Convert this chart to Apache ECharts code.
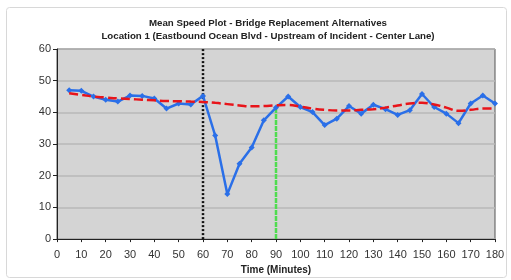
<!DOCTYPE html>
<html lang="en">
<head>
  <meta charset="UTF-8">
  <title>Mean Speed Plot</title>
  <style>
    html, body { margin: 0; padding: 0; background: #fff; }
  </style>
</head>
<body>
  <div id="main" style="width: 511px;height:280px;"></div>

  <script src="https://cdn.jsdelivr.net/npm/echarts@6/dist/echarts.min.js"></script>
  <script>
    const myChart = echarts.init(document.getElementById('main'));

    // time in minutes, every 5 min
    const minutes = [5, 10, 15, 20, 25, 30, 35, 40, 45, 50, 55, 60, 65, 70, 75, 80, 85, 90,
      95, 100, 105, 110, 115, 120, 125, 130, 135, 140, 145, 150, 155, 160, 165, 170, 175, 180];
    const meanSpeed = [47, 46.8, 45, 44, 43.4, 45.3, 45.2, 44.4, 41.2, 42.8, 42.5, 45.2,
      32.7, 14.2, 23.8, 28.9, 37.5, 41.5, 45, 41.7, 40.1, 36, 38, 42, 39.6, 42.4, 41,
      39.2, 40.7, 45.8, 41.7, 39.6, 36.6, 42.8, 45.3, 42.8];
    const trendSpeed = [46, 45.5, 45, 44.7, 44.4, 44.2, 44, 43.8, 43.6, 43.5, 43.4, 43.3,
      43, 42.6, 42.2, 41.9, 42, 42.2, 42.3, 41.8, 41.2, 40.8, 40.6, 40.6, 40.8, 41, 41.5,
      42.2, 42.8, 43, 42.5, 41.5, 40.5, 40.8, 41.2, 41.2];
    const incidentTime = 60;
    const clearTime = 90;
    const clearSpeed = 41.5;

    const options = {
      animation: false,
      title: {
        text: 'Mean Speed Plot - Bridge Replacement Alternatives\nLocation 1 (Eastbound Ocean Blvd - Upstream of Incident - Center Lane)',
        left: 263,
        textAlign: 'center',
        top: 12,
        textStyle: {
          fontFamily: 'Liberation Sans',
          fontSize: 9.7,
          fontWeight: 'bold',
          color: '#222',
          lineHeight: 13
        }
      },
      graphic: [{
        type: 'rect',
        shape: { x: 6.5, y: 7.5, width: 500, height: 270, r: 3 },
        style: { fill: 'none', stroke: '#d8d8d8', lineWidth: 1 },
        z: -1
      }],
      grid: {
        left: 57,
        right: 16,
        top: 49,
        bottom: 36,
        show: true,
        backgroundColor: '#d4d4d4',
        borderColor: '#555',
        borderWidth: 1
      },
      xAxis: {
        type: 'value',
        min: 0,
        max: 180,
        interval: 10,
        name: 'Time (Minutes)',
        nameLocation: 'middle',
        nameGap: 22,
        nameTextStyle: {
          fontFamily: 'Liberation Sans',
          fontSize: 10,
          fontWeight: 'bold',
          color: '#222'
        },
        axisLine: { lineStyle: { color: '#222', width: 1 } },
        axisTick: { length: 3, lineStyle: { color: '#222' } },
        axisLabel: {
          fontFamily: 'Liberation Sans',
          fontSize: 11,
          color: '#333',
          margin: 10
        },
        splitLine: { show: false }
      },
      yAxis: {
        type: 'value',
        min: 0,
        max: 60,
        interval: 10,
        axisLine: { show: true, lineStyle: { color: '#222', width: 1 } },
        axisTick: { show: true, length: 4, lineStyle: { color: '#222' } },
        axisLabel: {
          fontFamily: 'Liberation Sans',
          fontSize: 11,
          color: '#333',
          margin: 6
        },
        splitLine: { show: true, lineStyle: { color: '#b8b8b8', width: 1.5 } }
      },
      series: [
        {
          name: 'Incident',
          type: 'line',
          symbol: 'none',
          silent: true,
          lineStyle: { color: '#111', width: 2.5, type: [2, 2] },
          data: [[incidentTime, 0], [incidentTime, 60]]
        },
        {
          name: 'Cleared',
          type: 'line',
          symbol: 'none',
          silent: true,
          lineStyle: { color: '#4fdc4f', width: 2.5, type: [5, 1] },
          data: [[clearTime, 0], [clearTime, clearSpeed]]
        },
        {
          name: 'Mean Speed',
          type: 'line',
          symbol: 'diamond',
          symbolSize: 6,
          itemStyle: { color: '#2a6fe8' },
          lineStyle: { color: '#2a6fe8', width: 2.5 },
          data: minutes.map((m, i) => [m, meanSpeed[i]]),
          z: 3
        },
        {
          name: 'Trend',
          type: 'line',
          symbol: 'none',
          smooth: true,
          lineStyle: { color: '#e8141a', width: 2.5, type: [9, 4] },
          data: minutes.map((m, i) => [m, trendSpeed[i]]),
          z: 4
        }
      ]
    };

    myChart.setOption(options);
  </script>
</body>
</html>
